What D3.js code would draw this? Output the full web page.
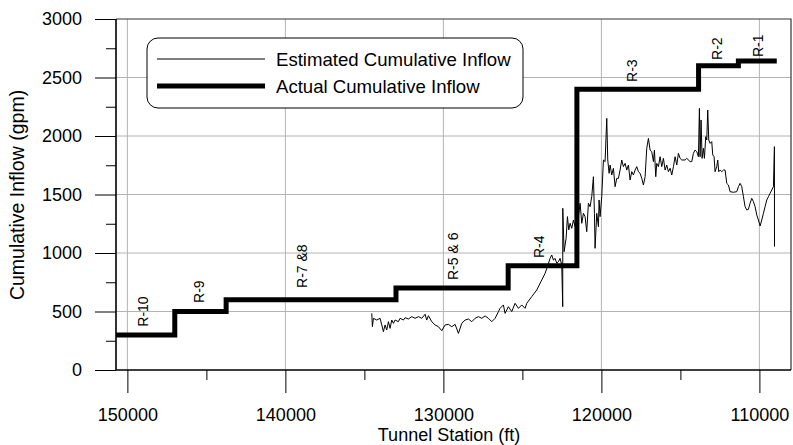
<!DOCTYPE html>
<html>
<head>
<meta charset="utf-8">
<script src="https://cdn.jsdelivr.net/npm/d3@7"></script>
<style>
  body { margin: 0; background: #fff; }
  svg { display: block; font-family: "Liberation Sans", Arial, sans-serif; }
</style>
</head>
<body>
<svg id="chart"></svg>
<script>
// step line: actual cumulative inflow (stations where each level starts)
const actualStation = [150720, 147000, 143750, 133000, 125900, 121550, 113850, 111330, 108900];
const actualInflow  = [300, 500, 600, 700, 890, 2400, 2600, 2640, 2640];

// estimated cumulative inflow
const estStation = [
  134534, 134492, 134429, 134218, 134007, 133901, 133796, 133690, 133585, 133479,
  133374, 133268, 133163, 133057, 132846, 132741, 132530, 132424, 132213, 132002,
  131791, 131580, 131369, 131158, 131053, 130947, 130736, 130525, 130314, 130103,
  129892, 129681, 129470, 129259, 129048, 128837, 128626, 128415, 128204, 127993,
  127782, 127571, 127360, 127149, 126938, 126727, 126516,
  126412, 126201, 126096, 125885, 125674, 125463, 125252, 125041, 124830, 124724,
  124408, 124091, 123775, 123564, 123416, 123247, 123142, 123036, 122931, 122825,
  122720, 122614, 122509, 122447, 122443, 122361, 122234, 122150, 122065, 121981,
  121876, 121770, 121665, 121454, 121348, 121243, 121137,
  121032, 120927, 120821, 120716, 120610, 120505, 120441, 120399, 120294, 120188,
  120146, 120083, 119977, 119872, 119766, 119661, 119597, 119513, 119450, 119344,
  119239, 119133, 119028, 118922, 118817, 118711, 118606, 118500, 118395, 118289,
  118184, 118078, 117973, 117867, 117762, 117656, 117551, 117445, 117340, 117234,
  117129, 117023, 116918, 116812, 116707, 116643, 116559, 116496, 116390, 116285,
  116179, 116074, 115968, 115863, 115757, 115652, 115546, 115441, 115335, 115230,
  115124, 115019, 114913, 114702, 114597, 114386,
  114282, 114176, 114071, 113965, 113860, 113796, 113754, 113691, 113627, 113543,
  113480, 113395, 113332, 113269, 113205, 113121, 113016, 112952, 112868, 112805,
  112699, 112636, 112572, 112488, 112383, 112277, 112172, 112066, 111961, 111855,
  111644, 111433, 111328, 111222, 111117, 111011, 110906, 110800, 110695, 110589,
  110484, 110378, 110273, 110167, 110062, 109956, 109851, 109745, 109640, 109534,
  109429, 109323, 109218, 109112, 109049, 109045
];
const estInflow = [
  484, 370, 442, 427, 442, 385, 328, 385, 342, 413,
  356, 427, 399, 427, 413, 442, 427, 447, 436, 456,
  442, 456, 442, 476, 427, 464, 413, 385, 370, 336,
  385, 390, 370, 390, 313, 399, 427, 436, 413, 442,
  456, 442, 462, 442, 413, 442, 499,
  527, 556, 484, 541, 499, 570, 527, 556, 527, 570,
  627, 684, 769, 826, 883, 954, 983, 940, 954, 912,
  926, 954, 897, 541, 1382, 1011, 1125, 1311, 1197, 1254,
  1211, 1282, 1225, 1311, 1425, 1254, 1339,
  1311, 1182, 1425, 1396, 1482, 1652, 1339, 1040, 1339, 1225,
  1453, 1311, 1482, 1795, 1781, 2151, 1795, 1681, 1752, 1667,
  1724, 1567, 1638, 1638, 1709, 1795, 1738, 1766, 1709, 1752,
  1624, 1695, 1667, 1709, 1738, 1695, 1681, 1638, 1581, 1652,
  1895, 1980, 1880, 1866, 1781, 1880, 1652, 1766, 1738, 1823,
  1738, 1809, 1709, 1752, 1695, 1724, 1667, 1738, 1823, 1752,
  1852, 1809, 1795, 1795, 1809, 1781,
  1781, 1852, 1880, 1866, 1823, 2236, 1823, 2137, 1809, 1895,
  1809, 1994, 1966, 2222, 1966, 1937, 1952, 1838, 1823, 1695,
  1738, 1795, 1695, 1709, 1695, 1709, 1709, 1595, 1581, 1524,
  1519, 1524, 1567, 1595, 1567, 1481, 1396, 1368, 1373, 1425,
  1467, 1439, 1396, 1325, 1282, 1231, 1282, 1339, 1396, 1453,
  1481, 1510, 1538, 1567, 1909, 1054
];

// reach labels and where they sit (station, inflow at label foot)
const reachNames   = ["R-10", "R-9", "R-7 &8", "R-5 & 6", "R-4", "R-3", "R-2", "R-1"];
const reachStation = [149000, 145460, 138940, 129390, 123940, 118060, 112680, 110080];
const reachInflow  = [370, 573, 701, 769, 957, 2462, 2650, 2675];

const xMajor = [150000, 140000, 130000, 120000, 110000];
const xMinor = [145000, 135000, 125000, 115000];
const yMajor = [0, 500, 1000, 1500, 2000, 2500, 3000];
const yMinor = [250, 750, 1250, 1750, 2250, 2750];

const legendNames = ["Estimated Cumulative Inflow", "Actual Cumulative Inflow"];

const width = 793, height = 445;
const m = {left: 116, right: 791, top: 19, bottom: 370};

const svg = d3.select("#chart").attr("width", width).attr("height", height);

const x = d3.scaleLinear().domain([150720, 108000]).range([m.left, m.right]);
const y = d3.scaleLinear().domain([0, 3000]).range([m.bottom, m.top]);

// grid
svg.append("g")
    .selectAll("line")
    .data(xMajor)
    .enter()
    .append("line")
    .attr("x1", d => x(d)).attr("x2", d => x(d))
    .attr("y1", m.top).attr("y2", m.bottom)
    .attr("stroke", "#b4b4b4");
svg.append("g")
    .selectAll("line")
    .data(yMajor.slice(1, -1))
    .enter()
    .append("line")
    .attr("x1", m.left).attr("x2", m.right)
    .attr("y1", d => y(d)).attr("y2", d => y(d))
    .attr("stroke", "#b4b4b4");

// axes
function styleAxis(g) {
    g.select(".domain").remove();
    g.selectAll("line").attr("stroke", "#000");
    g.selectAll("text").attr("fill", "#000").style("font-size", "18px")
        .style("font-family", '"Liberation Sans", Arial, sans-serif');
}

svg.append("g")
    .attr("transform", "translate(0," + m.bottom + ")")
    .call(d3.axisBottom(x).tickValues(xMajor).tickSize(23).tickPadding(15).tickFormat(d3.format("d")))
    .call(styleAxis);
svg.append("g")
    .attr("transform", "translate(0," + m.bottom + ")")
    .call(d3.axisBottom(x).tickValues(xMinor).tickSize(10).tickFormat(""))
    .call(styleAxis);
svg.append("g")
    .attr("transform", "translate(" + m.left + ",0)")
    .call(d3.axisLeft(y).tickValues(yMajor).tickSize(21).tickPadding(13).tickFormat(d3.format("d")))
    .call(styleAxis);
svg.append("g")
    .attr("transform", "translate(" + m.left + ",0)")
    .call(d3.axisLeft(y).tickValues(yMinor).tickSize(10).tickFormat(""))
    .call(styleAxis);

// frame
svg.append("path")
    .attr("d", `M${m.left},${m.top}H${m.right}V${m.bottom}`)
    .attr("fill", "none").attr("stroke", "#333").attr("stroke-width", 1.2);
svg.append("path")
    .attr("d", `M${m.left},${m.top}V${m.bottom}H${m.right}`)
    .attr("fill", "none").attr("stroke", "#000").attr("stroke-width", 1.6);

// estimated trace
const estData = estStation.map((s, i) => [s, estInflow[i]]);
svg.append("path")
    .datum(estData)
    .attr("fill", "none")
    .attr("stroke", "#000")
    .attr("stroke-width", 1)
    .attr("d", d3.line().x(d => x(d[0])).y(d => y(d[1])));

// actual step line
const actData = actualStation.map((s, i) => [s, actualInflow[i]]);
svg.append("path")
    .datum(actData)
    .attr("fill", "none")
    .attr("stroke", "#000")
    .attr("stroke-width", 5)
    .attr("stroke-linejoin", "miter")
    .attr("d", d3.line().curve(d3.curveStepAfter).x(d => x(d[0])).y(d => y(d[1])));

// reach labels
svg.append("g")
    .selectAll("text")
    .data(reachNames)
    .enter()
    .append("text")
    .attr("transform", (d, i) => "translate(" + (x(reachStation[i]) + 5) + "," + y(reachInflow[i]) + ") rotate(-90)")
    .style("font-size", "14px")
    .text(d => d);

// legend
const legend = svg.append("g");
legend.append("rect")
    .attr("x", 147).attr("y", 38).attr("width", 376).attr("height", 70)
    .attr("rx", 11).attr("ry", 11)
    .attr("fill", "#fff").attr("stroke", "#000");
legend.selectAll("line")
    .data(legendNames)
    .enter()
    .append("line")
    .attr("x1", 157).attr("x2", 265)
    .attr("y1", (d, i) => 59 + i * 27).attr("y2", (d, i) => 59 + i * 27)
    .attr("stroke", "#000")
    .attr("stroke-width", (d, i) => i ? 5 : 1);
legend.selectAll("text")
    .data(legendNames)
    .enter()
    .append("text")
    .attr("x", 276)
    .attr("y", (d, i) => 65.5 + i * 27)
    .style("font-size", "18.6px")
    .text(d => d);

// axis titles
svg.append("text")
    .attr("x", 449).attr("y", 441)
    .attr("text-anchor", "middle")
    .style("font-size", "18px")
    .text("Tunnel Station (ft)");
svg.append("text")
    .attr("transform", "translate(24,195) rotate(-90)")
    .attr("text-anchor", "middle")
    .style("font-size", "19.5px")
    .text("Cumulative Inflow (gpm)");
</script>
</body>
</html>
